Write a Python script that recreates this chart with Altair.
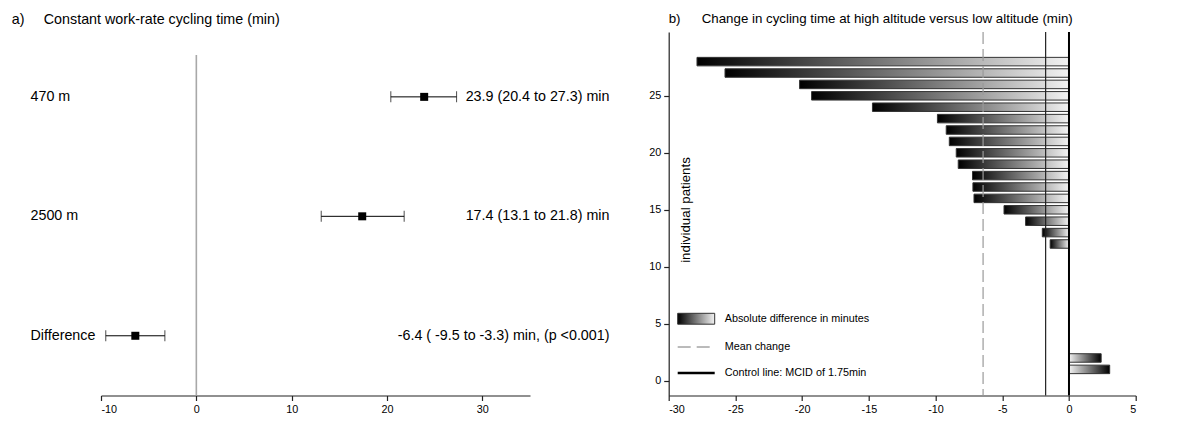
import altair as alt
import pandas as pd

FONT = "Liberation Sans"

# ---------------- Panel a data ----------------
rows = ["470 m", "2500 m", "Difference"]
row_pos = [3, 2, 1]
est = [23.9, 17.4, -6.4]
lo = [20.4, 13.1, -9.5]
hi = [27.3, 21.8, -3.3]
ci_text = ["23.9 (20.4 to 27.3) min", "17.4 (13.1 to 21.8) min",
           "-6.4 ( -9.5 to -3.3) min, (p <0.001)"]
a_ticks = [-10, 0, 10, 20, 30]
a_title = ["a)", "Constant work-rate cycling time (min)"]

# ---------------- Panel b data ----------------
patients = list(range(1, 29))
change = [3.05, 2.41, 0, 0, 0, 0, 0, 0, 0, 0, 0,
          -1.41, -2.0, -3.25, -4.87, -7.12, -7.20, -7.23, -8.30, -8.45,
          -8.97, -9.20, -9.86, -14.73, -19.29, -20.19, -25.78, -27.88]
mcid = -1.75
b_xticks = [-30, -25, -20, -15, -10, -5, 0, 5]
b_yticks = [0, 5, 10, 15, 20, 25]
b_title = ["b)", "Change in cycling time at high altitude versus low altitude (min)"]
legend_labels = ["Absolute difference in minutes", "Mean change",
                 "Control line: MCID of 1.75min"]
y_title = "individual patients"

mean_change = sum(change) / len(change)

W_A, W_B, H = 429, 467, 363.5
FS_A, FS_B, FS_SMALL = 14.3, 13.3, 10.8

grad_neg = alt.LinearGradient(
    gradient="linear", x1=0, x2=1, y1=0, y2=0,
    stops=[alt.GradientStop(offset=0, color="#000000"),
           alt.GradientStop(offset=1, color="#f2f2f2")])
grad_pos = alt.LinearGradient(
    gradient="linear", x1=0, x2=1, y1=0, y2=0,
    stops=[alt.GradientStop(offset=0, color="#f2f2f2"),
           alt.GradientStop(offset=1, color="#000000")])

axis_common = dict(grid=False, title=None, labelFont=FONT, labelFontSize=FS_SMALL,
                   labelColor="#000", domainColor="#222", tickColor="#222",
                   domainWidth=1.2, tickWidth=1.2, tickSize=5, labelPadding=3,
                   labelExpr="'' + datum.value")


def txt(s, x, y, size=14, align="left", angle=0):
    return alt.Chart(pd.DataFrame({"t": [s]})).mark_text(
        align=align, baseline="middle", font=FONT, fontSize=size, color="black",
        angle=angle).encode(x=alt.value(x), y=alt.value(y), text="t:N")


# ---------------- Panel a ----------------
dfa = pd.DataFrame({"row": rows, "pos": row_pos, "est": est, "lo": lo,
                    "hi": hi, "txt": ci_text})
base_a = alt.Chart(dfa)
xa = alt.X("est:Q", scale=alt.Scale(domain=[-10, 35], nice=False, zero=False),
           axis=alt.Axis(values=a_ticks, **axis_common))
ya = alt.Y("pos:Q", scale=alt.Scale(domain=[0.5, 3.543], nice=False, zero=False),
           axis=None)

zero_a = alt.Chart(pd.DataFrame({"v": [0], "y1": [3.35], "y2": [0.5]})).mark_rule(
    color="#a8a8a8", strokeWidth=1.6).encode(x="v:Q", y="y1:Q", y2="y2:Q")
pts = base_a.mark_square(size=64, color="black", opacity=1, filled=True).encode(x=xa, y=ya)
bars_a = base_a.mark_rule(color="black", strokeWidth=1).encode(x="lo:Q", x2="hi:Q", y="pos:Q")
cap_lo = base_a.mark_tick(orient="vertical", size=11, thickness=1, color="black").encode(
    x="lo:Q", y="pos:Q")
cap_hi = base_a.mark_tick(orient="vertical", size=11, thickness=1, color="black").encode(
    x="hi:Q", y="pos:Q")
lab_a = base_a.mark_text(align="left", baseline="middle", font=FONT, fontSize=FS_A,
                         color="black").encode(x=alt.value(-70.5), y="pos:Q", text="row:N")
ci_a = base_a.mark_text(align="right", baseline="middle", font=FONT, fontSize=FS_A,
                        color="black").encode(x=alt.value(508.5), y="pos:Q", text="txt:N")

panel_a = alt.layer(pts, zero_a, bars_a, cap_lo, cap_hi, lab_a, ci_a,
                    txt(a_title[0], -89.3, -12, FS_A),
                    txt(a_title[1], -57.2, -12, FS_A)).properties(width=W_A, height=H)

# ---------------- Panel b ----------------
dfb = pd.DataFrame({"patient": patients, "change": change})
base_b = alt.Chart(dfb).transform_calculate(zero="0")
xb = alt.X("change:Q", scale=alt.Scale(domain=[-30, 5], nice=False, zero=False),
           axis=alt.Axis(values=b_xticks, **axis_common))
yb = alt.Y("patient:Q", scale=alt.Scale(domain=[-0.853, 30.16], nice=False, zero=False),
           axis=alt.Axis(values=b_yticks, **axis_common))

neg = base_b.transform_filter("datum.change < 0").mark_bar(
    orient="horizontal", size=8.5, fill=grad_neg, stroke="#333", strokeWidth=1).encode(
    x=xb, x2="zero:Q", y=yb)
pos = base_b.transform_filter("datum.change > 0").mark_bar(
    orient="horizontal", size=8.5, fill=grad_pos, stroke="#333", strokeWidth=1).encode(
    x="change:Q", x2="zero:Q", y="patient:Q")

mean_rule = alt.Chart(pd.DataFrame({"change": [mean_change]})).mark_rule(
    color="#9a9a9a", strokeWidth=1.2, strokeDash=[12, 5]).encode(x="change:Q")
mcid_rule = alt.Chart(pd.DataFrame({"change": [mcid]})).mark_rule(
    color="#222", strokeWidth=1.2).encode(x="change:Q")
zero_rule = alt.Chart(pd.DataFrame({"change": [0]})).mark_rule(
    color="#000", strokeWidth=2).encode(x="change:Q")

one = pd.DataFrame({"d": [0]})
leg_rect = alt.Chart(one).mark_rect(fill=grad_neg, stroke="#333", strokeWidth=1).encode(
    x=alt.value(9), x2=alt.value(46), y=alt.value(281.3), y2=alt.value(292.2))
leg_dash = alt.Chart(one).mark_rule(color="#777", strokeWidth=1, strokeDash=[13, 6]).encode(
    x=alt.value(9), x2=alt.value(42), y=alt.value(315))
leg_line = alt.Chart(one).mark_rule(color="#000", strokeWidth=2.5).encode(
    x=alt.value(9), x2=alt.value(46), y=alt.value(341))

panel_b = alt.layer(
    neg, pos, mean_rule, mcid_rule, zero_rule, leg_rect, leg_dash, leg_line,
    txt(legend_labels[0], 56, 286.7, FS_SMALL), txt(legend_labels[1], 56, 315, FS_SMALL),
    txt(legend_labels[2], 56, 341, FS_SMALL),
    txt(y_title, 17, 178, FS_B, align="center", angle=270),
    txt(b_title[0], 0, -13, FS_B), txt(b_title[1], 33, -13, FS_B)).properties(
    width=W_B, height=H)

chart = alt.hconcat(panel_a, panel_b, spacing=138.7, bounds="flush").properties(
    padding={"left": 3, "top": 4, "right": 5, "bottom": 5}, background="white"
).configure_view(stroke=None)

chart.save("out.html", embed_options={"renderer": "svg", "actions": False})
